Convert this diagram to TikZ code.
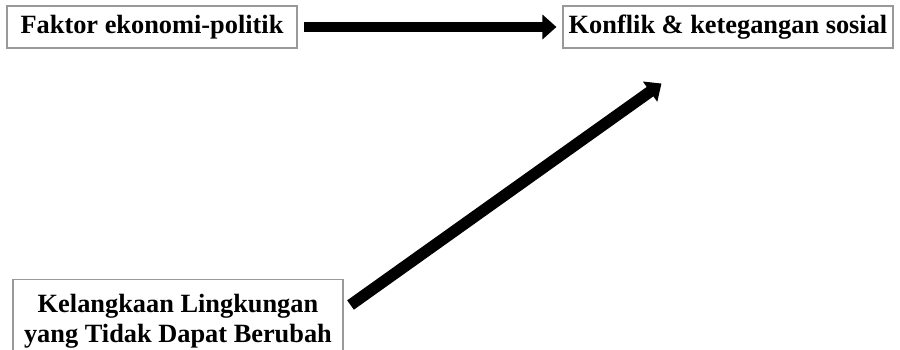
\documentclass[tikz,border=0pt]{standalone}
\usepackage{fontspec}
\setmainfont{Liberation Serif}
\usetikzlibrary{arrows.meta}
\begin{document}
\begin{tikzpicture}[
	kotak/.style={draw=gray!80, line width=0.6pt, inner sep=0pt, align=center, font=\fontsize{15}{17}\selectfont\bfseries},
	panah/.style={line width=#1, -{Triangle[length=0.28cm, width=0.48cm]}}]
	
	\useasboundingbox (0,0) rectangle (18,-6.98);
	\node[kotak, minimum width=5.8cm, minimum height=0.84cm] (faktor) at (3.04,-0.54) {Faktor ekonomi-politik};
	\node[kotak, minimum width=6.6cm, minimum height=0.84cm] (konflik) at (14.56,-0.54) {Konflik \& ketegangan sosial};
	\node[kotak, anchor=north, minimum width=6.6cm, minimum height=1.7cm, text depth=0.15cm] (langka) at (3.56,-5.58) {Kelangkaan Lingkungan\\yang Tidak Dapat Berubah};
	\coordinate (awal) at ([xshift=0.14cm, yshift=-0.52cm]langka.north east);
	\coordinate (akhir) at ([xshift=1.98cm, yshift=-0.7cm]konflik.south west);
	\draw[panah=0.19cm, shorten <=0.12cm, shorten >=0.12cm] (faktor) -- (konflik);
	\draw[panah=0.23cm] (awal) -- (akhir);
\end{tikzpicture}
\end{document}
